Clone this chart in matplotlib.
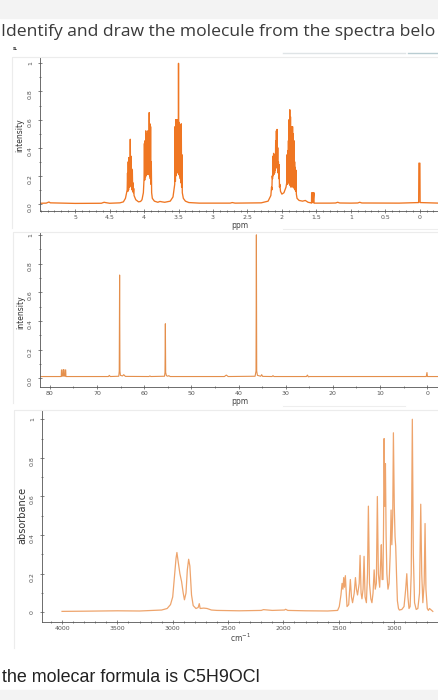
import matplotlib
matplotlib.use("Agg")
import matplotlib.pyplot as plt
from matplotlib.patches import Rectangle
from matplotlib.lines import Line2D
from matplotlib.ticker import MultipleLocator

# ---- 1H NMR trace (ppm, intensity) ----
h1_ppm = [5.51, 5.42, 5.40, 5.38, 5.36, 5.0, 4.62, 4.58, 4.55, 4.50, 4.35, 4.30, 4.27, 4.25,
          4.245, 4.240, 4.235, 4.230, 4.225, 4.220, 4.215, 4.210, 4.205, 4.200, 4.195, 4.190,
          4.185, 4.180, 4.175, 4.170, 4.165, 4.160, 4.155, 4.150, 4.145, 4.12, 4.08, 4.05, 4.03,
          4.01, 4.000, 3.995, 3.990, 3.985, 3.980, 3.975, 3.970, 3.965, 3.960, 3.955, 3.950,
          3.945, 3.940, 3.935, 3.930, 3.925, 3.920, 3.915, 3.910, 3.905, 3.900, 3.895, 3.890,
          3.88, 3.85, 3.80, 3.77, 3.74, 3.70, 3.62, 3.58, 3.56,
          3.555, 3.550, 3.545, 3.540, 3.535, 3.530, 3.525, 3.520, 3.515, 3.510, 3.505, 3.500,
          3.495, 3.490, 3.485, 3.480, 3.475, 3.470, 3.465, 3.460, 3.455, 3.450, 3.445,
          3.43, 3.40, 3.35, 3.2, 2.75, 2.72, 2.68, 2.30, 2.20, 2.16, 2.15,
          2.145, 2.140, 2.135, 2.130, 2.125, 2.120, 2.115, 2.110, 2.105, 2.100, 2.095, 2.090,
          2.085, 2.080, 2.075, 2.070, 2.065, 2.060, 2.055, 2.050, 2.045, 2.040, 2.035, 2.030,
          2.02, 2.00, 1.97, 1.94,
          1.930, 1.925, 1.920, 1.915, 1.910, 1.905, 1.900, 1.895, 1.890, 1.885, 1.880, 1.875,
          1.870, 1.865, 1.860, 1.855, 1.850, 1.845, 1.840, 1.835, 1.830, 1.825, 1.820, 1.815,
          1.810, 1.805, 1.800, 1.795, 1.790, 1.78, 1.75, 1.70, 1.66, 1.62, 1.58,
          1.570, 1.568, 1.555, 1.552, 1.550, 1.548, 1.535, 1.533,
          1.30, 1.22, 1.19, 1.16, 1.0, 0.90, 0.87, 0.84, 0.30,
          0.015, 0.012, -0.003, -0.006, -0.28]
h1_int = [0.005, 0.006, 0.01, 0.014, 0.008, 0.004, 0.005, 0.012, 0.009, 0.005, 0.008, 0.015, 0.04, 0.09,
          0.10, 0.22, 0.09, 0.30, 0.10, 0.33, 0.12, 0.33, 0.14, 0.46, 0.13, 0.34,
          0.12, 0.25, 0.10, 0.24, 0.09, 0.15, 0.08, 0.11, 0.06, 0.03, 0.015, 0.018, 0.03,
          0.08, 0.18, 0.43, 0.17, 0.45, 0.19, 0.52, 0.20, 0.50, 0.22, 0.48, 0.21,
          0.52, 0.22, 0.50, 0.21, 0.65, 0.20, 0.57, 0.18, 0.55, 0.14, 0.30, 0.08,
          0.04, 0.02, 0.012, 0.018, 0.015, 0.012, 0.02, 0.05, 0.12,
          0.14, 0.55, 0.16, 0.60, 0.20, 0.58, 0.22, 0.60, 0.24, 0.59, 0.22, 1.00,
          0.21, 0.58, 0.20, 0.55, 0.18, 0.56, 0.15, 0.57, 0.12, 0.35, 0.08,
          0.04, 0.02, 0.01, 0.006, 0.006, 0.01, 0.006, 0.008, 0.02, 0.06, 0.12,
          0.10, 0.20, 0.18, 0.34, 0.20, 0.36, 0.21, 0.35, 0.22, 0.33, 0.24, 0.45,
          0.26, 0.52, 0.27, 0.53, 0.25, 0.40, 0.22, 0.30, 0.18, 0.28, 0.12, 0.14,
          0.09, 0.07, 0.08, 0.12,
          0.15, 0.35, 0.14, 0.38, 0.15, 0.45, 0.16, 0.60, 0.14, 0.67, 0.13, 0.62,
          0.12, 0.55, 0.13, 0.53, 0.12, 0.55, 0.13, 0.50, 0.12, 0.45, 0.11, 0.30,
          0.10, 0.26, 0.09, 0.24, 0.07, 0.04, 0.025, 0.02, 0.025, 0.012, 0.008,
          0.006, 0.08, 0.08, 0.01, 0.08, 0.01, 0.08, 0.006,
          0.006, 0.007, 0.012, 0.007, 0.006, 0.007, 0.012, 0.007, 0.006,
          0.01, 0.29, 0.29, 0.01, 0.006]

# ---- 13C NMR trace ----
c13_ppm = [82.1, 78.0, 77.6, 77.55, 77.45, 77.4, 77.2, 77.15, 77.05, 77.0, 76.8, 76.75, 76.65, 76.6,
           72.0, 67.6, 67.4, 67.2, 65.4, 65.3, 65.22, 65.15, 65.05, 64.6, 64.35, 64.0,
           59.0, 58.8, 58.6, 55.7, 55.6, 55.52, 55.45, 55.3, 55.0, 54.8, 54.5,
           43.0, 42.6, 42.2, 36.5, 36.3, 36.22, 36.15, 36.0, 35.3, 35.1, 34.9,
           32.9, 32.7, 32.5, 25.6, 25.4, 25.2, 24.9, 0.2, 0.05, -0.05, -2.5]
c13_int = [0.012, 0.012, 0.012, 0.058, 0.058, 0.015, 0.015, 0.06, 0.06, 0.015, 0.015, 0.058, 0.058, 0.012,
           0.012, 0.012, 0.02, 0.012, 0.014, 0.05, 0.72, 0.05, 0.02, 0.016, 0.025, 0.013,
           0.012, 0.016, 0.012, 0.014, 0.04, 0.38, 0.04, 0.018, 0.014, 0.018, 0.012,
           0.012, 0.022, 0.012, 0.014, 0.05, 1.0, 0.05, 0.02, 0.014, 0.025, 0.013,
           0.012, 0.018, 0.012, 0.012, 0.022, 0.01, 0.012, 0.012, 0.04, 0.012, 0.012]

# ---- IR trace (wavenumber, absorbance) ----
ir_wn = [4000, 3800, 3500, 3300, 3100, 3050, 3020, 3000, 2985, 2970, 2962, 2950, 2935, 2920,
         2905, 2894, 2880, 2868, 2856, 2845, 2830, 2815, 2790, 2770, 2760, 2752, 2720, 2690,
         2650, 2600, 2400, 2200, 2180, 2100, 1990, 1980, 1960, 1800, 1600, 1510, 1495, 1480,
         1470, 1462, 1455, 1448, 1440, 1432, 1425, 1410, 1395, 1385, 1375, 1360, 1349, 1340,
         1330, 1315, 1307, 1298, 1290, 1280, 1271, 1262, 1250, 1240, 1232, 1222, 1210, 1200,
         1190, 1180, 1170, 1160, 1151, 1142, 1130, 1122, 1115, 1108, 1100, 1095, 1090, 1084,
         1078, 1072, 1065, 1055, 1045, 1035, 1027, 1020, 1012, 1006, 998, 991, 985, 978, 970,
         960, 952, 930, 910, 895, 885, 875, 865, 855, 845, 835, 826, 815, 800, 785, 770, 759,
         750, 740, 728, 720, 712, 700, 690, 680, 670, 660, 650]
ir_abs = [0.005, 0.006, 0.008, 0.007, 0.012, 0.02, 0.04, 0.08, 0.18, 0.28, 0.31, 0.26, 0.20, 0.16,
          0.10, 0.065, 0.10, 0.22, 0.275, 0.24, 0.09, 0.035, 0.02, 0.025, 0.045, 0.02, 0.022, 0.02,
          0.012, 0.01, 0.008, 0.01, 0.014, 0.01, 0.012, 0.016, 0.01, 0.008, 0.007, 0.01, 0.03, 0.09,
          0.15, 0.12, 0.18, 0.13, 0.19, 0.10, 0.03, 0.04, 0.17, 0.08, 0.05, 0.10, 0.18, 0.12,
          0.09, 0.15, 0.295, 0.10, 0.07, 0.12, 0.29, 0.08, 0.05, 0.20, 0.55, 0.15, 0.07, 0.05,
          0.10, 0.22, 0.12, 0.15, 0.60, 0.20, 0.13, 0.25, 0.35, 0.17, 0.17, 0.45, 0.90, 0.55,
          0.77, 0.40, 0.20, 0.12, 0.15, 0.30, 0.53, 0.35, 0.50, 0.93, 0.55, 0.39, 0.34, 0.20, 0.06,
          0.02, 0.012, 0.015, 0.03, 0.12, 0.20, 0.08, 0.02, 0.03, 0.20, 1.0, 0.30, 0.05, 0.015, 0.02, 0.10, 0.56,
          0.20, 0.05, 0.15, 0.46, 0.12, 0.02, 0.01, 0.02, 0.015, 0.01, 0.005]

h1_ticks = [5, 4.5, 4, 3.5, 3, 2.5, 2, 1.5, 1, 0.5, 0]
h1_ticklabels = ["5", "4.5", "4", "3.5", "3", "2.5", "2", "1.5", "1", "0.5", "0"]
c13_ticks = [80, 70, 60, 50, 40, 30, 20, 10, 0]
ir_ticks = [4000, 3500, 3000, 2500, 2000, 1500, 1000]
nmr_yticklabels = ["0.0", "0.2", "0.4", "0.6", "0.8", "1"]
ir_yticklabels = ["0", "0.2", "0.4", "0.6", "0.8", "1"]

W, H = 439, 700
fig = plt.figure(figsize=(W / 100, H / 100), dpi=100)


def px_rect(x0, y0, x1, y1):
    # pixel box (top-left origin) -> figure fraction rect
    return [x0 / W, 1 - y1 / H, (x1 - x0) / W, (y1 - y0) / H]


def px_line(xs, ys, **kw):
    # faint page decoration in pixel coords
    fig.lines.append(Line2D([x / W for x in xs], [1 - y / H for y in ys],
                            transform=fig.transFigure, zorder=0, **kw))


# page background bits
fig.patches.append(Rectangle((0, 1 - 18 / H), 1, 18 / H, transform=fig.transFigure,
                             color="#f3f3f3", zorder=0))
fig.patches.append(Rectangle((0, 0), 1, 10 / H, transform=fig.transFigure,
                             color="#f3f3f3", zorder=0))
# card edges (left + top) around each spectrum
for (x0, y0, y1) in [(12, 57, 228), (13, 232, 403), (14, 410, 648)]:
    px_line([x0, x0, W], [y1, y0, y0], color="#ececec", lw=0.8)
px_line([283, 405], [53, 53], color="#dfe4e6", lw=1.0)
px_line([408, W], [53, 53], color="#b9cdd2", lw=1.0)
px_line([283, W], [229, 229], color="#eeeeee", lw=0.8)
px_line([283, 405], [406, 406], color="#eeeeee", lw=0.8)

fig.text(1 / W, 1 - 32 / H, "Identify and draw the molecule from the spectra belo",
         family="Open Sans", fontsize=12.6, color="#3a3a3a", va="center", ha="left")
fig.text(13 / W, 1 - 49 / H, "s.", fontsize=4, weight="bold", color="#333", va="center")
fig.text(2 / W, 1 - 678 / H, "the molecar formula is C5H9OCl",
         family="Liberation Sans", fontsize=12.9, color="#222", va="center", ha="left")


def style_axis(ax, xticks, xlabels, xminor, ylabels):
    for s in ["top", "right"]:
        ax.spines[s].set_visible(False)
    for s in ["left", "bottom"]:
        ax.spines[s].set_linewidth(0.6)
        ax.spines[s].set_color("#555")
    ax.set_xticks(xticks)
    ax.set_xticklabels(xlabels)
    ax.xaxis.set_minor_locator(MultipleLocator(xminor))
    ax.set_yticks([0, 0.2, 0.4, 0.6, 0.8, 1.0])
    ax.set_yticklabels(ylabels)
    ax.yaxis.set_minor_locator(MultipleLocator(0.1))
    ax.tick_params(which="both", direction="inout", color="#555", width=0.5,
                   labelsize=4.5, labelcolor="#555")
    ax.tick_params(which="major", length=3)
    ax.tick_params(which="minor", length=1.6)
    ax.tick_params(axis="y", labelrotation=90, pad=3.5)
    ax.tick_params(axis="x", pad=1.5)


# 1H NMR
ax1 = fig.add_axes(px_rect(40, 57, 439, 211))
ax1.plot(h1_ppm, h1_int, color="#ef7622", lw=0.95)
ax1.set_xlim(5.51, -0.28)
ax1.set_ylim(-0.05, 1.045)
style_axis(ax1, h1_ticks, h1_ticklabels, 0.1, nmr_yticklabels)
ax1.set_xlabel("ppm", fontsize=5.5, color="#444", labelpad=0.5)
fig.text(20 / W, 1 - 135 / H, "intensity", rotation=90, fontsize=5.5, color="#333",
         ha="center", va="center")

# 13C NMR
ax2 = fig.add_axes(px_rect(40, 232, 439, 387))
ax2.plot(c13_ppm, c13_int, color="#e48f4c", lw=0.8)
ax2.set_xlim(82.1, -2.5)
ax2.set_ylim(-0.061, 1.02)
style_axis(ax2, c13_ticks, [str(t) for t in c13_ticks], 5, nmr_yticklabels)
ax2.set_xlabel("ppm", fontsize=5.5, color="#444", labelpad=0.5)
fig.text(21 / W, 1 - 312 / H, "intensity", rotation=90, fontsize=5.5, color="#333",
         ha="center", va="center")

# IR
ax3 = fig.add_axes(px_rect(42, 410, 439, 622))
ax3.plot(ir_wn, ir_abs, color="#eea46c", lw=0.9)
ax3.set_xlim(4181, 594)
ax3.set_ylim(-0.05, 1.048)
style_axis(ax3, ir_ticks, [str(t) for t in ir_ticks], 100, ir_yticklabels)
ax3.set_xlabel("cm$^{-1}$", fontsize=5.5, color="#444", labelpad=0.5)
fig.text(22 / W, 1 - 515 / H, "absorbance", rotation=90, fontsize=7, color="#333",
         ha="center", va="center")

fig.savefig("out.png", dpi=100)
